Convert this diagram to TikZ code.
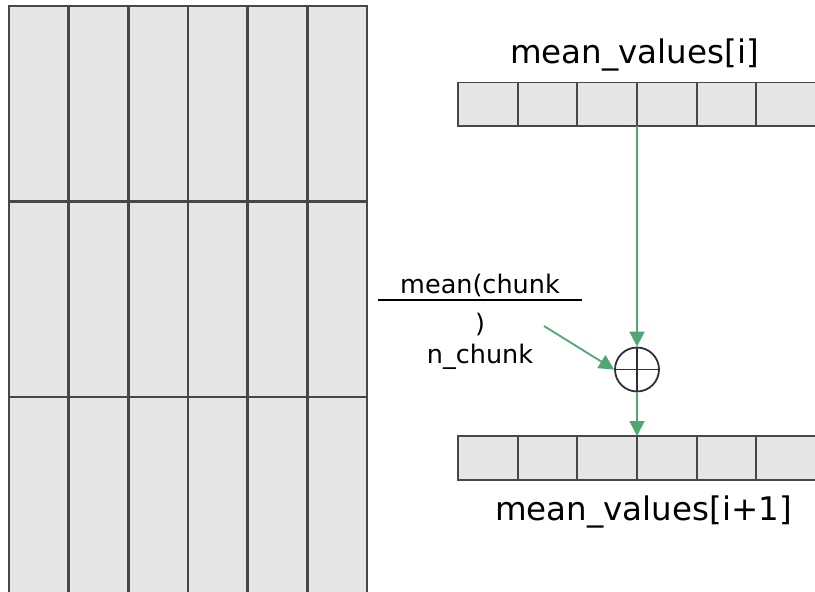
\documentclass[tikz,border=0pt]{standalone}
\usepackage{fontspec}
\setmainfont{DejaVu Sans}
\usetikzlibrary{arrows.meta}
\definecolor{cellfill}{HTML}{E6E6E6}
\definecolor{cellline}{HTML}{474747}
\definecolor{flow}{HTML}{4DA872}
\definecolor{opline}{HTML}{2E2E3C}
\begin{document}
\begin{tikzpicture}[x=1pt,y=-1pt,
  gridcell/.style={draw=cellline, fill=cellfill, line width=2.4pt,
    minimum width=59.67pt, minimum height=195.5pt, inner sep=0pt,
    outer sep=0pt, anchor=north west},
  arrcell/.style={draw=cellline, fill=cellfill, line width=1.8pt,
    minimum width=59.67pt, minimum height=43.5pt, inner sep=0pt,
    outer sep=0pt, anchor=north west},
  flowarrow/.style={draw=flow, line width=1.8pt,
    -{Triangle[length=15pt,width=15pt]}},
  bigtext/.style={font=\fontsize{32.5}{38}\selectfont, inner sep=0pt, anchor=base},
  smalltext/.style={font=\fontsize{25.5}{30}\selectfont, inner sep=0pt, anchor=base}]
\useasboundingbox (0,0) rectangle (815,592);

% data block on the left: 6 columns x 3 row chunks
\foreach \c in {0,...,5}{
  \foreach \r in {0,1}{
    \node[gridcell] (g\r\c) at ({9+59.67*\c},{6+195.5*\r}) {};
  }
  \node[gridcell, minimum height=215pt] (g2\c) at ({9+59.67*\c},397) {};
}

% running mean arrays
\foreach \c in {1,...,6}{
  \node[arrcell] (t\c) at ({458+59.67*(\c-1)},82.5) {};
  \node[arrcell, minimum height=44pt] (b\c) at ({458+59.67*(\c-1)},436) {};
}

\node[bigtext] (toplabel) at (634.5,63) {mean\_values[i]};
\node[bigtext] (botlabel) at (643.5,520) {mean\_values[i+1]};

% chunk contribution as a fraction
\node[smalltext] (num) at (480,293) {mean(chunk};
\coordinate (barl) at (378,300);
\coordinate (barr) at (582,300);
\draw[black, line width=1.8pt] (barl) -- (barr);
\node[smalltext] (paren) at (480,332) {)};
\node[smalltext] (den) at (480,363) {n\_chunk};

% sum operator
\node[circle, draw=opline, line width=1.8pt, minimum size=44pt,
      inner sep=0pt] (sum) at (637,369.5) {};
\draw[opline, line width=1.8pt] (sum.north) -- (sum.south)
                                (sum.west) -- (sum.east);

% data flow
\coordinate (fracend) at (544,326);
\draw[flowarrow] (t3.south east) -- (sum.north);
\draw[flowarrow] (fracend) -- (sum.west);
\draw[flowarrow] (sum.south) -- (b3.north east);
\end{tikzpicture}
\end{document}
